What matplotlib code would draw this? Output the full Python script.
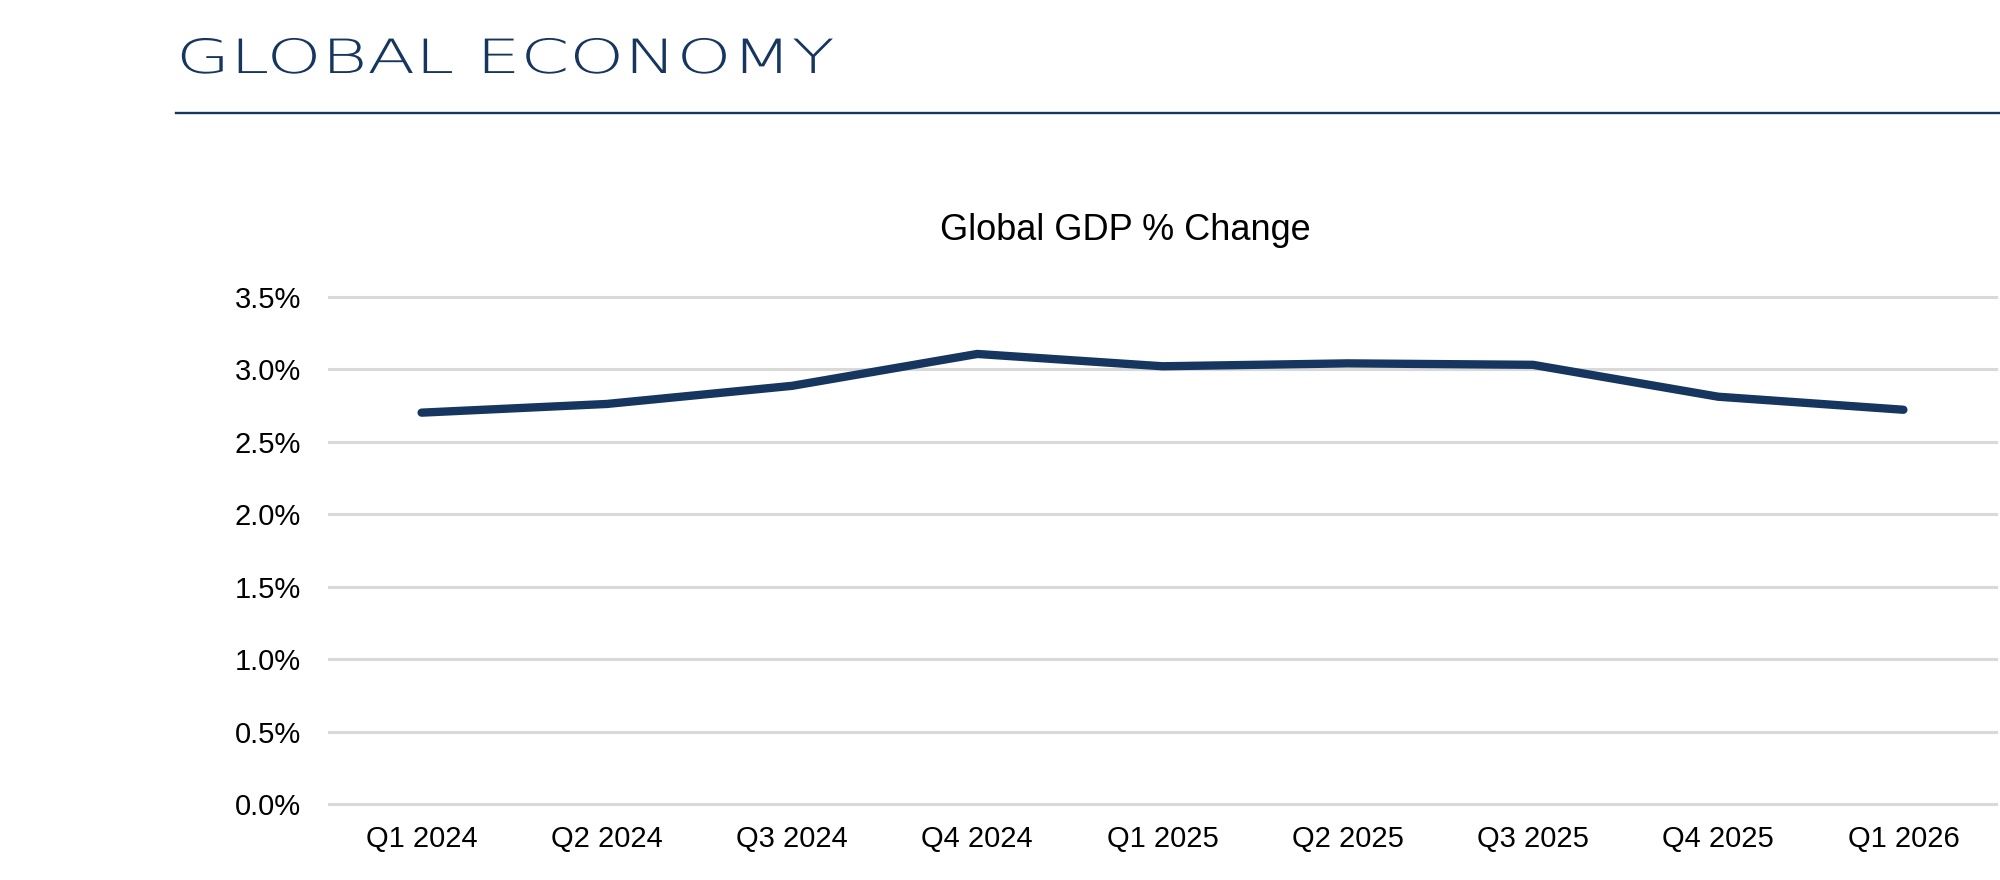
import matplotlib
matplotlib.use("Agg")
import matplotlib.pyplot as plt
from matplotlib.lines import Line2D
from matplotlib.patheffects import AbstractPathEffect
from matplotlib.transforms import Affine2D
from matplotlib.ticker import FuncFormatter

NAVY = "#16365f"
GRID = "#d9d9d9"

quarters = ["Q1 2024", "Q2 2024", "Q3 2024", "Q4 2024", "Q1 2025",
            "Q2 2025", "Q3 2025", "Q4 2025", "Q1 2026"]
gdp_change = [2.70, 2.76, 2.885, 3.105, 3.02, 3.04, 3.03, 2.81, 2.72]
yticks = [0.0, 0.5, 1.0, 1.5, 2.0, 2.5, 3.0, 3.5]


class StretchX(AbstractPathEffect):
    """Widen glyphs horizontally about a display x (header font is an extended face)."""
    def __init__(self, sx, x0):
        super().__init__()
        self.sx, self.x0 = sx, x0

    def draw_path(self, renderer, gc, tpath, affine, rgbFace=None):
        st = Affine2D().translate(-self.x0, 0).scale(self.sx, 1).translate(self.x0, 0)
        renderer.draw_path(gc, tpath, affine + st, rgbFace)


plt.rcParams["font.family"] = ["Liberation Sans", "DejaVu Sans"]

fig = plt.figure(figsize=(20, 8.8), dpi=100)

# page header
fig.text(176 / 2000, 1 - 73 / 880, "GLOBAL ECONOMY", fontsize=34, color=NAVY,
         family=["DejaVu Sans"], fontweight="light", va="baseline", ha="left",
         path_effects=[StretchX(1.48, 176)])
fig.add_artist(Line2D([176 / 2000, 1.0], [1 - 113 / 880] * 2, color=NAVY, lw=1.7,
                      transform=fig.transFigure))

ax = fig.add_axes([329 / 2000, 1 - 804 / 880, 1667 / 2000, (804 - 296.7) / 880])
x = list(range(len(quarters)))
ax.plot(x, gdp_change, color=NAVY, lw=6.0, solid_capstyle="round",
        solid_joinstyle="round", zorder=3)

ax.set_xlim(-0.5, len(quarters) - 0.5)
ax.set_ylim(0, 3.5)
ax.set_xticks(x)
ax.set_xticklabels(quarters)
ax.set_yticks(yticks)
ax.yaxis.set_major_formatter(FuncFormatter(lambda v, _: f"{v:.1f}%"))
ax.tick_params(axis="both", length=0, labelsize=21, colors="black")
ax.tick_params(axis="y", pad=20)
ax.tick_params(axis="x", pad=15)
ax.grid(axis="y", color=GRID, lw=2.2, clip_on=False)
ax.set_axisbelow(True)
for s in ax.spines.values():
    s.set_visible(False)

fig.text(1125 / 2000, 1 - 240 / 880, "Global GDP % Change", fontsize=26,
         ha="center", va="baseline")

fig.savefig("out.png", dpi=100, facecolor="white")
